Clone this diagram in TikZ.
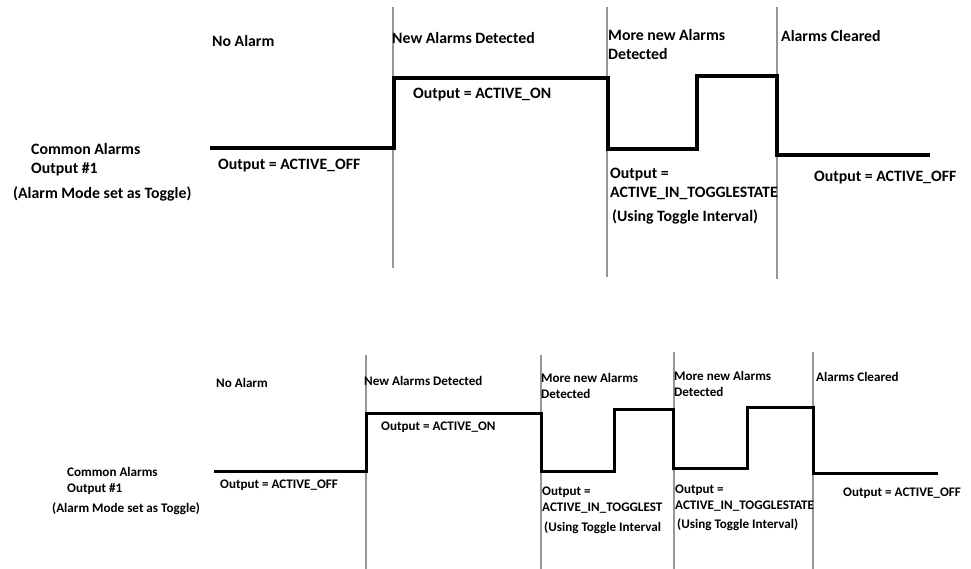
\documentclass[tikz,border=0pt]{standalone}
\usepackage{fontspec}
\setmainfont{Carlito}
\usepackage{tikz}
\usetikzlibrary{positioning}
\definecolor{MarkerGray}{RGB}{150, 150, 150}

\begin{document}
\begin{tikzpicture}[
    x=1pt, y=-1pt,
    label/.style={anchor=base west, inner sep=0pt, align=left},
    marker/.style={draw=MarkerGray, line width=1.4pt},
    signal/.style={draw=black, line width=3.6pt, line join=miter}
]
\useasboundingbox (0,0) rectangle (971,569);

% Diagram 1: event markers
\draw[marker] (393,7) -- (393,268);
\draw[marker] (607,7) -- (607,277);
\draw[marker] (777,7) -- (777,279);

% Diagram 1: output signal
\draw[signal] (210,148) -- (394,148) -- (394,78) -- (608,78) -- (608,149)
    -- (697,149) -- (697,76) -- (777,76) -- (777,155) -- (930,155);

% Diagram 1: labels
\begin{scope}[font=\bfseries\fontsize{15.8}{19}\selectfont]
\node[label] (common1) at (31,174) {Common Alarms\\Output \#1};
\node[label] (mode1) at (13,199) {(Alarm Mode set as Toggle)};
\node[label] (noalarm1) at (212,47) {No Alarm};
\node[label] (new1) at (392,44) {New Alarms Detected};
\node[label] (more1) at (608,60) {More new Alarms\\Detected};
\node[label] (cleared1) at (781,42) {Alarms Cleared};
\node[label] (on1) at (413,99) {Output = ACTIVE\_ON};
\node[label] (off1) at (218,170) {Output = ACTIVE\_OFF};
\node[label] (toggle1) at (610,198) {Output =\\ACTIVE\_IN\_TOGGLESTATE};
\node[label] (interval1) at (612,222) {(Using Toggle Interval)};
\node[label] (offend1) at (814,182) {Output = ACTIVE\_OFF};
\end{scope}

% Diagram 2: event markers
\draw[marker] (366,355) -- (366,569);
\draw[marker] (541,355) -- (541,569);
\draw[marker] (674,352) -- (674,569);
\draw[marker] (813,352) -- (813,569);

% Diagram 2: output signal
\draw[signal, line width=3pt] (214,471) -- (366,471) -- (366,413) -- (541,413) -- (541,471)
    -- (614,471) -- (614,409) -- (673,409) -- (673,468) -- (747,468)
    -- (747,407) -- (813,407) -- (813,473) -- (938,473);

% Diagram 2: labels
\begin{scope}[font=\bfseries\fontsize{13.1}{16}\selectfont]
\node[label] (common2) at (67,492.5) {Common Alarms\\Output \#1};
\node[label] (mode2) at (52,512) {(Alarm Mode set as Toggle)};
\node[label] (noalarm2) at (216,387) {No Alarm};
\node[label] (new2) at (364,385) {New Alarms Detected};
\node[label] (more2) at (541,398.5) {More new Alarms\\Detected};
\node[label] (more3) at (674,396.5) {More new Alarms\\Detected};
\node[label] (cleared2) at (816,381) {Alarms Cleared};
\node[label] (on2) at (381,430) {Output = ACTIVE\_ON};
\node[label] (off2) at (220,488) {Output = ACTIVE\_OFF};
\node[label] (toggle2) at (542,511.5) {Output =\\ACTIVE\_IN\_TOGGLEST};
\node[label] (interval2) at (544,531) {(Using Toggle Interval};
\node[label] (toggle3) at (675,509.5) {Output =\\ACTIVE\_IN\_TOGGLESTATE};
\node[label] (interval3) at (677,528) {(Using Toggle Interval)};
\node[label] (offend2) at (843,496) {Output = ACTIVE\_OFF};
\end{scope}

\end{tikzpicture}
\end{document}
